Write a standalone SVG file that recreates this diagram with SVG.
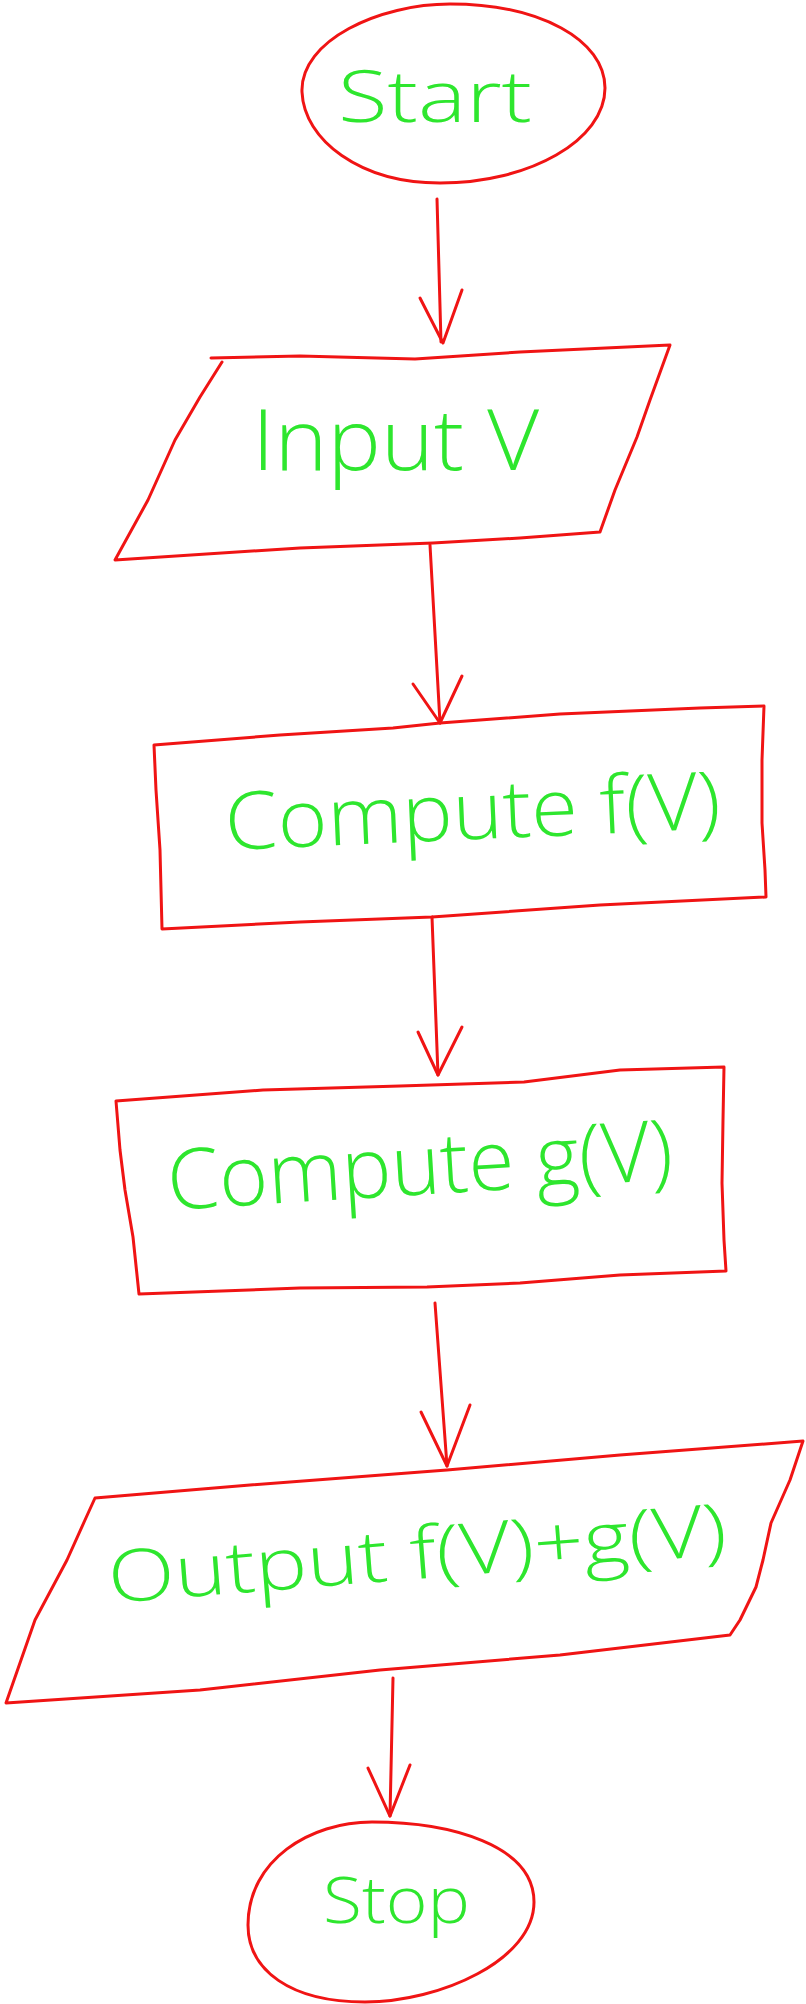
<svg xmlns="http://www.w3.org/2000/svg" width="806" height="2004" viewBox="0 0 806 2004">
<style>
.shape{fill:none;stroke:#f01414;stroke-width:3;stroke-linejoin:round;stroke-linecap:round}
.conn{fill:none;stroke:#f01414;stroke-width:3;stroke-linejoin:round;stroke-linecap:round}
.lbl{fill:#2ee62e;font-family:"Open Sans","Liberation Sans",sans-serif;font-weight:300}
</style>
<rect width="806" height="2004" fill="#ffffff"/>
<g id="start">
<path class="shape" d="M302,92 C300,40 380,4 450,4 C540,4 605,40 605,88 C605,140 530,183 440,183 C360,183 304,140 302,92 Z"/>
<text class="lbl" x="338" y="122" font-size="72" textLength="194" lengthAdjust="spacingAndGlyphs">Start</text>
</g>
<g id="input">
<path class="shape" d="M211,358 L300,356 L415,359 L520,352 L670,345 L650,400 L637,437 L615,490 L600,532 L520,538 L433,543 L300,548 L115,560 L148,500 L175,440 L200,397 L222,362"/>
<text class="lbl" x="252" y="470" font-size="84" textLength="287" lengthAdjust="spacingAndGlyphs">Input V</text>
</g>
<g id="computeF">
<path class="shape" d="M154,745 L280,735 L393,728 L440,723 L560,714 L700,708 L764,706 L762,760 L762,823 L765,870 L766,897 L600,905 L432,917 L300,922 L162,929 L160,850 L156,790 Z"/>
<text class="lbl" x="226" y="850" font-size="80" textLength="496" lengthAdjust="spacingAndGlyphs" transform="rotate(-2.5 226 850)">Compute f(V)</text>
</g>
<g id="computeG">
<path class="shape" d="M116,1101 L263,1090 L400,1086 L524,1082 L620,1070 L724,1067 L723,1120 L722,1183 L724,1240 L726,1271 L620,1275 L520,1283 L427,1287 L300,1288 L139,1294 L133,1237 L125,1190 L120,1150 Z"/>
<text class="lbl" x="169" y="1210" font-size="84" textLength="506" lengthAdjust="spacingAndGlyphs" transform="rotate(-3.5 169 1210)">Compute g(V)</text>
</g>
<g id="output">
<path class="shape" d="M95,1498 L250,1485 L447,1470 L620,1455 L803,1441 L790,1480 L771,1523 L763,1560 L756,1587 L740,1620 L730,1635 L560,1655 L380,1670 L200,1690 L6,1703 L35,1620 L67,1560 L85,1520 Z"/>
<text class="lbl" x="110" y="1603" font-size="72" textLength="620" lengthAdjust="spacingAndGlyphs" transform="rotate(-4.5 110 1603)">Output f(V)+g(V)</text>
</g>
<g id="stop">
<path class="shape" d="M248,1925 C248,1860 310,1822 372,1822 C450,1822 534,1845 534,1902 C534,1960 440,2002 365,2002 C290,2002 248,1970 248,1925 Z"/>
<text class="lbl" x="323" y="1923" font-size="64" textLength="147" lengthAdjust="spacingAndGlyphs">Stop</text>
</g>
<g id="connectors">
<path class="conn" d="M437,199 L441,342"/>
<path class="conn" d="M420,298 L443,343 L462,290"/>
<path class="conn" d="M430,545 L440,723"/>
<path class="conn" d="M413,684 L440,723 L462,676"/>
<path class="conn" d="M432,917 L438,1075"/>
<path class="conn" d="M418,1032 L438,1075 L462,1027"/>
<path class="conn" d="M435,1303 L447,1466"/>
<path class="conn" d="M421,1412 L447,1466 L470,1405"/>
<path class="conn" d="M393,1678 L390,1816"/>
<path class="conn" d="M368,1768 L390,1816 L410,1765"/>
</g>
</svg>
